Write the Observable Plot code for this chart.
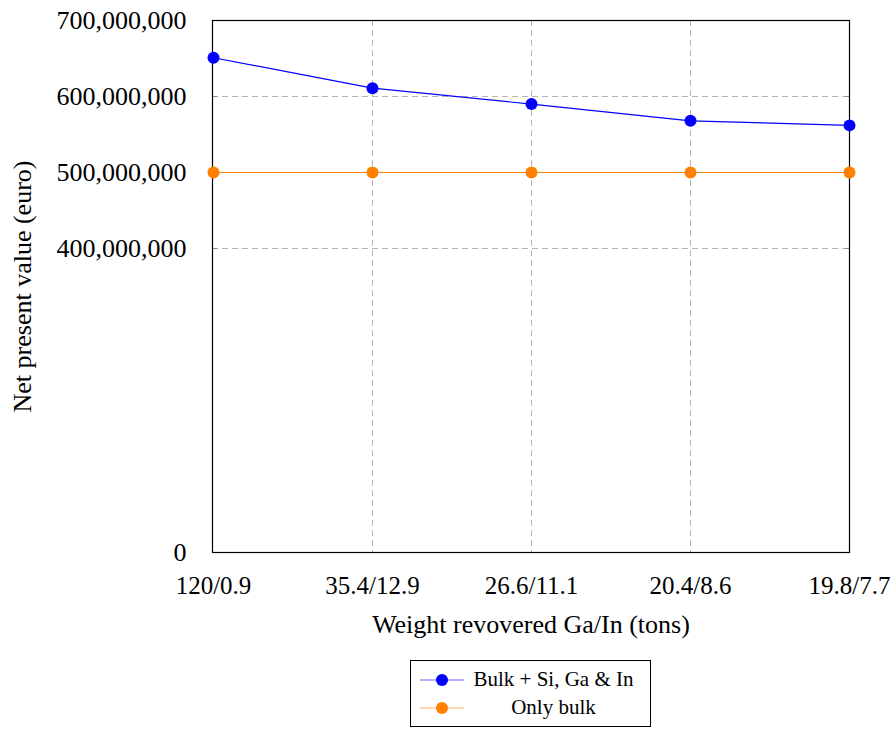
<!DOCTYPE html>
<html>
<head>
<meta charset="utf-8">
<script src="https://cdn.jsdelivr.net/npm/d3@7"></script>
<script src="https://cdn.jsdelivr.net/npm/@observablehq/plot@0.6"></script>
<style>
  body { margin: 0; background: #fff; }
  #wrap { position: relative; width: 896px; height: 729px; font-family: "Liberation Serif", "Times New Roman", serif; }
  #legend {
    position: absolute; left: 410px; top: 660px; width: 241px; height: 67px;
    border: 1px solid #000; box-sizing: border-box; background: #fff;
    font-size: 21px; color: #000;
    display: flex; flex-direction: column; justify-content: center; gap: 3px;
  }
  .row { display: flex; align-items: center; height: 25px; }
  .row svg { margin-left: 8px; flex: none; }
  .row span { flex: 1; text-align: center; padding-right: 8px; }
</style>
</head>
<body>
<div id="wrap"><div id="chart"></div><div id="legend"></div></div>
<script>
// Scenario labels along the x axis (recovered Ga / In in tons)
const categories = ["120/0.9", "35.4/12.9", "26.6/11.1", "20.4/8.6", "19.8/7.7"];
// Net present value per scenario (euro)
const bulkSiGaIn = [651e6, 611e6, 590e6, 568e6, 562e6];
const onlyBulk = [500e6, 500e6, 500e6, 500e6, 500e6];
const seriesNames = ["Bulk + Si, Ga & In", "Only bulk"];
const seriesColors = ["#0000ff", "#ff8000"];
const yTicks = [0, 400e6, 500e6, 600e6, 700e6];

const rows = [];
categories.forEach((c, i) => {
  rows.push({cat: c, value: bulkSiGaIn[i], series: seriesNames[0]});
  rows.push({cat: c, value: onlyBulk[i], series: seriesNames[1]});
});

const fmt = d3.format(",");
const font = '"Liberation Serif", "Times New Roman", serif';

const chart = Plot.plot({
  width: 896,
  height: 729,
  marginLeft: 212,
  marginRight: 47,
  marginTop: 20,
  marginBottom: 177,
  style: {fontFamily: font, fontSize: "26px", color: "#000", background: "#fff"},
  x: {type: "point", domain: categories, padding: 0},
  y: {domain: [0, 700e6]},
  color: {domain: seriesNames, range: seriesColors},
  marks: [
    Plot.gridY(yTicks.filter(d => d > 0 && d < 700e6), {stroke: "#b4b4b4", strokeOpacity: 1, strokeDasharray: "6,4"}),
    Plot.gridX(categories.slice(1, -1), {stroke: "#b4b4b4", strokeOpacity: 1, strokeDasharray: "6,4"}),
    Plot.axisY(yTicks, {anchor: "left", tickSize: 0, tickPadding: 26, tickFormat: fmt, fontSize: 26, label: null}),
    Plot.axisY(yTicks.slice(1, -1), {anchor: "left", tickSize: -5, text: null, stroke: "#888", label: null}),
    Plot.axisY(yTicks.slice(1, -1), {anchor: "right", tickSize: -5, text: null, stroke: "#888", label: null}),
    Plot.axisX(categories, {anchor: "bottom", tickSize: 0, tickPadding: 20, dy: 4, fontSize: 25, label: null}),
    Plot.text(["Weight revovered Ga/In (tons)"], {frameAnchor: "bottom", dy: 72, fontSize: 26, lineAnchor: "middle"}),
    Plot.text(["Net present value (euro)"], {frameAnchor: "left", textAnchor: "middle", dx: -190, rotate: -90, fontSize: 26, lineAnchor: "middle"}),
    Plot.frame({stroke: "#000", strokeWidth: 1.2}),
    Plot.line(rows, {x: "cat", y: "value", z: "series", stroke: "series", strokeWidth: 1.2}),
    Plot.dot(rows, {x: "cat", y: "value", fill: "series", r: 6})
  ]
});
document.getElementById("chart").appendChild(chart);

// Legend box below the plot
const legend = document.getElementById("legend");
seriesNames.forEach((name, i) => {
  const row = document.createElement("div");
  row.className = "row";
  row.innerHTML =
    `<svg width="46" height="20"><line x1="1" y1="10" x2="45" y2="10" stroke="${seriesColors[i]}" stroke-opacity="0.6" stroke-width="1.2"/>` +
    `<circle cx="23" cy="10" r="6" fill="${seriesColors[i]}"/></svg><span>${name}</span>`;
  legend.appendChild(row);
});
</script>
</body>
</html>
